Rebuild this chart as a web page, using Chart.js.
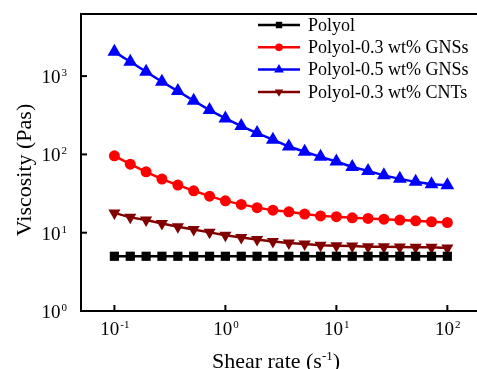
<!DOCTYPE html>
<html>
<head>
<meta charset="utf-8">
<script src="https://cdn.jsdelivr.net/npm/chart.js@4.4.1/dist/chart.umd.min.js"></script>
<style>
    html, body { margin: 0; padding: 0; background: #fff; overflow: hidden; }
</style>
</head>
<body>
<canvas id="viscChart" width="477" height="369"></canvas>
<script>
// DATA
const shearRate = [0.1, 0.139, 0.193, 0.268, 0.373, 0.518, 0.72, 1, 1.39, 1.93, 2.68,
    3.73, 5.18, 7.2, 10, 13.9, 19.3, 26.8, 37.3, 51.8, 72, 100];

const polyol = [5.0, 5.0, 5.0, 5.0, 5.0, 5.0, 5.0, 5.0, 5.0, 5.0, 5.0,
    5.0, 5.0, 5.0, 5.0, 5.0, 5.0, 5.0, 5.0, 5.0, 5.0, 5.0];
const gns03 = [96, 75, 60, 48.4, 40.6, 34.3, 29.3, 25.5, 23, 20.9, 19.4,
    18.5, 17.3, 16.4, 16, 15.5, 15.2, 14.9, 14.5, 14.2, 13.8, 13.5];
const gns05 = [2040, 1525, 1135, 846, 643, 484, 368, 288, 230, 187, 154,
    126, 108, 93, 81, 69, 61.6, 54, 48.7, 44.6, 41.6, 40.4];
const cnt03 = [17.9, 15.7, 14.5, 13.1, 11.9, 11, 10.1, 9.3, 8.7, 8.2, 7.7,
    7.4, 7.15, 6.9, 6.8, 6.74, 6.6, 6.6, 6.55, 6.5, 6.5, 6.4];

const seriesNames = ['Polyol', 'Polyol-0.3 wt% GNSs', 'Polyol-0.5 wt% GNSs', 'Polyol-0.3 wt% CNTs'];

const xTicks = [0.1, 1, 10, 100];
const xTickExp = ['-1', '0', '1', '2'];
const yTicks = [1, 10, 100, 1000];
const yTickExp = ['0', '1', '2', '3'];

const serif = '"Liberation Serif", "Times New Roman", serif';

function toPoints(values) {
    return values.map((v, i) => ({ x: shearRate[i], y: v }));
}

// "10" with a small raised exponent
function drawPower(ctx, exp, x, baseline, align) {
    ctx.font = '19px ' + serif;
    const w1 = ctx.measureText('10').width;
    ctx.font = '11px ' + serif;
    const w2 = ctx.measureText(exp).width;
    const left = align === 'center' ? x - (w1 + w2) / 2 : x - w1 - w2 - 1;
    ctx.textAlign = 'left';
    ctx.textBaseline = 'alphabetic';
    ctx.font = '19px ' + serif;
    ctx.fillText('10', left, baseline);
    ctx.font = '11px ' + serif;
    ctx.fillText(exp, left + w1 + 1, baseline - 7);
}

const framePlugin = {
    id: 'frame',
    afterDraw(chart) {
        const ctx = chart.ctx;
        const area = chart.chartArea;
        const xs = chart.scales.x;
        const ys = chart.scales.y;
        ctx.save();
        ctx.fillStyle = '#000';
        ctx.strokeStyle = '#000';
        ctx.lineWidth = 2;

        // top border
        ctx.beginPath();
        ctx.moveTo(area.left, area.top);
        ctx.lineTo(chart.width, area.top);
        ctx.stroke();

        // inward ticks + labels
        xTicks.forEach((t, i) => {
            const px = xs.getPixelForValue(t);
            ctx.beginPath();
            ctx.moveTo(px, area.bottom);
            ctx.lineTo(px, area.bottom - 6);
            ctx.stroke();
            drawPower(ctx, xTickExp[i], px, 335, 'center');
        });
        yTicks.forEach((t, i) => {
            const py = ys.getPixelForValue(t);
            ctx.beginPath();
            ctx.moveTo(area.left, py);
            ctx.lineTo(area.left + 6, py);
            ctx.stroke();
            drawPower(ctx, yTickExp[i], 67, py + 7, 'right');
        });

        // axis titles
        ctx.font = '22px ' + serif;
        ctx.textBaseline = 'alphabetic';
        const t1 = 'Shear rate (s';
        const t2 = ')';
        const w1 = ctx.measureText(t1).width;
        const w2 = ctx.measureText(t2).width;
        ctx.font = '13px ' + serif;
        const ws = ctx.measureText('-1').width;
        let left = 276 - (w1 + ws + w2) / 2;
        ctx.textAlign = 'left';
        ctx.font = '22px ' + serif;
        ctx.fillText(t1, left, 368);
        ctx.font = '13px ' + serif;
        ctx.fillText('-1', left + w1, 360);
        ctx.font = '22px ' + serif;
        ctx.fillText(t2, left + w1 + ws, 368);

        ctx.save();
        ctx.translate(25, 170);
        ctx.rotate(-Math.PI / 2);
        ctx.textAlign = 'center';
        ctx.textBaseline = 'middle';
        ctx.fillText('Viscosity (Pas)', 0, 0);
        ctx.restore();

        // legend
        chart.data.datasets.forEach((ds, i) => {
            const y = 25 + i * 22.3;
            ctx.strokeStyle = ds.borderColor;
            ctx.lineWidth = 2.5;
            ctx.beginPath();
            ctx.moveTo(258, y);
            ctx.lineTo(300, y);
            ctx.stroke();
            ctx.fillStyle = ds.backgroundColor;
            Chart.helpers.drawPoint(ctx, {
                pointStyle: ds.pointStyle,
                radius: ds.pointRadius * 0.7,
                rotation: ds.pointRotation || 0,
                borderWidth: 0
            }, 279, y);
            ctx.fillStyle = '#000';
            ctx.font = '18px ' + serif;
            ctx.textAlign = 'left';
            ctx.textBaseline = 'middle';
            ctx.fillText(seriesNames[i], 308, y + 1);
        });
        ctx.restore();
    }
};

function makeSet(label, values, color, style, radius, rotation) {
    return {
        label: label,
        data: toPoints(values),
        borderColor: color,
        backgroundColor: color,
        borderWidth: 2.5,
        pointStyle: style,
        pointRadius: radius,
        pointRotation: rotation,
        pointBorderWidth: 0,
        pointBackgroundColor: color,
        tension: 0
    };
}

const ctx = document.getElementById('viscChart').getContext('2d');
const viscChart = new Chart(ctx, {
    type: 'line',
    data: {
        datasets: [
            makeSet(seriesNames[0], polyol, '#000000', 'rect', 6.5, 0),
            makeSet(seriesNames[1], gns03, '#ff0000', 'circle', 5.5, 0),
            makeSet(seriesNames[2], gns05, '#0000ff', 'triangle', 8, 0),
            makeSet(seriesNames[3], cnt03, '#800000', 'triangle', 7, 180)
        ]
    },
    options: {
        responsive: false,
        animation: false,
        devicePixelRatio: 1,
        layout: { autoPadding: false, padding: { top: 14, right: 0, left: 0, bottom: 0 } },
        plugins: {
            legend: { display: false },
            tooltip: { enabled: false }
        },
        scales: {
            x: {
                type: 'logarithmic',
                min: 0.05,
                max: 185,
                grid: { display: false },
                border: { display: true, color: '#000', width: 2 },
                ticks: { display: false },
                afterFit(scale) { scale.height = 58; }
            },
            y: {
                type: 'logarithmic',
                min: 1,
                max: 6210,
                grid: { display: false },
                border: { display: true, color: '#000', width: 2 },
                ticks: { display: false },
                afterFit(scale) { scale.width = 81; }
            }
        }
    },
    plugins: [framePlugin]
});
</script>
</body>
</html>
